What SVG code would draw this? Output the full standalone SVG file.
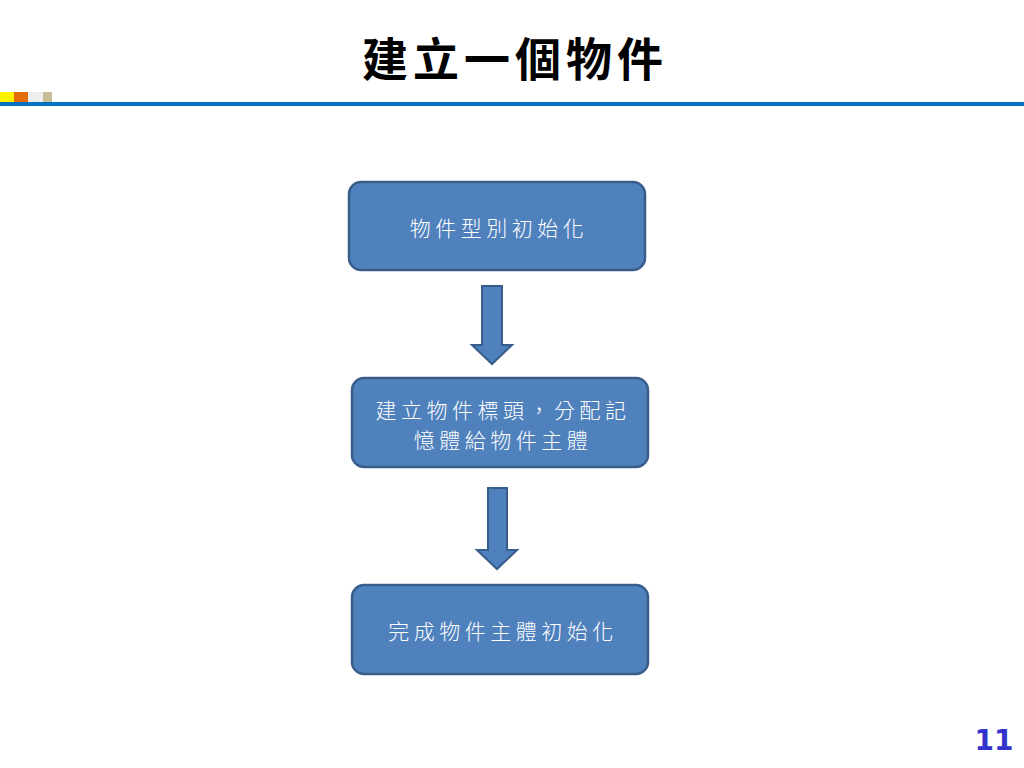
<svg xmlns="http://www.w3.org/2000/svg" width="1024" height="768" viewBox="0 0 1024 768">
<style>
.box{fill:#4F81BD;stroke:#385D8A;stroke-width:2.5}
.arr{fill:#4F81BD;stroke:#385D8A;stroke-width:2}
.lbl{font-family:"Noto Sans CJK TC","Noto Sans CJK SC",sans-serif;font-size:21px;font-weight:300;fill:#fff;letter-spacing:4.5px;text-anchor:middle}
</style>
<rect width="1024" height="768" fill="#fff"/>
<g id="header">
<rect x="0" y="92" width="14" height="10" fill="#FFF200"/>
<rect x="14" y="92" width="14" height="10" fill="#E36C09"/>
<rect x="28" y="92" width="15" height="10" fill="#EEEEEE"/>
<rect x="43" y="92" width="9" height="10" fill="#C4BD97"/>
<rect x="0" y="102" width="1024" height="4" fill="#0070C0"/>
<text x="515" y="76" font-family="'Noto Sans CJK TC','Noto Sans CJK SC',serif" font-size="46" font-weight="bold" text-anchor="middle" letter-spacing="5">建立一個物件</text>
</g>
<g id="connectors">
<polygon class="arr" points="482,286 502,286 502,345 512,345 492,364 472,345 482,345"/>
<polygon class="arr" points="488,488 507,488 507,550 517,550 497,569 477,550 488,550"/>
</g>
<g id="node1">
<rect class="box" x="349" y="182" width="296" height="88" rx="12"/>
<text class="lbl" x="499" y="236">物件型別初始化</text>
</g>
<g id="node2">
<rect class="box" x="352" y="378" width="296" height="89" rx="12"/>
<text class="lbl" x="503" y="418">建立物件標頭，分配記</text>
<text class="lbl" x="503" y="448">憶體給物件主體</text>
</g>
<g id="node3">
<rect class="box" x="352" y="585" width="296" height="89" rx="12"/>
<text class="lbl" x="503" y="639">完成物件主體初始化</text>
</g>
<text x="994" y="750" font-family="'DejaVu Sans',sans-serif" font-size="28" font-weight="bold" fill="#3333CC" text-anchor="middle">11</text>
</svg>
